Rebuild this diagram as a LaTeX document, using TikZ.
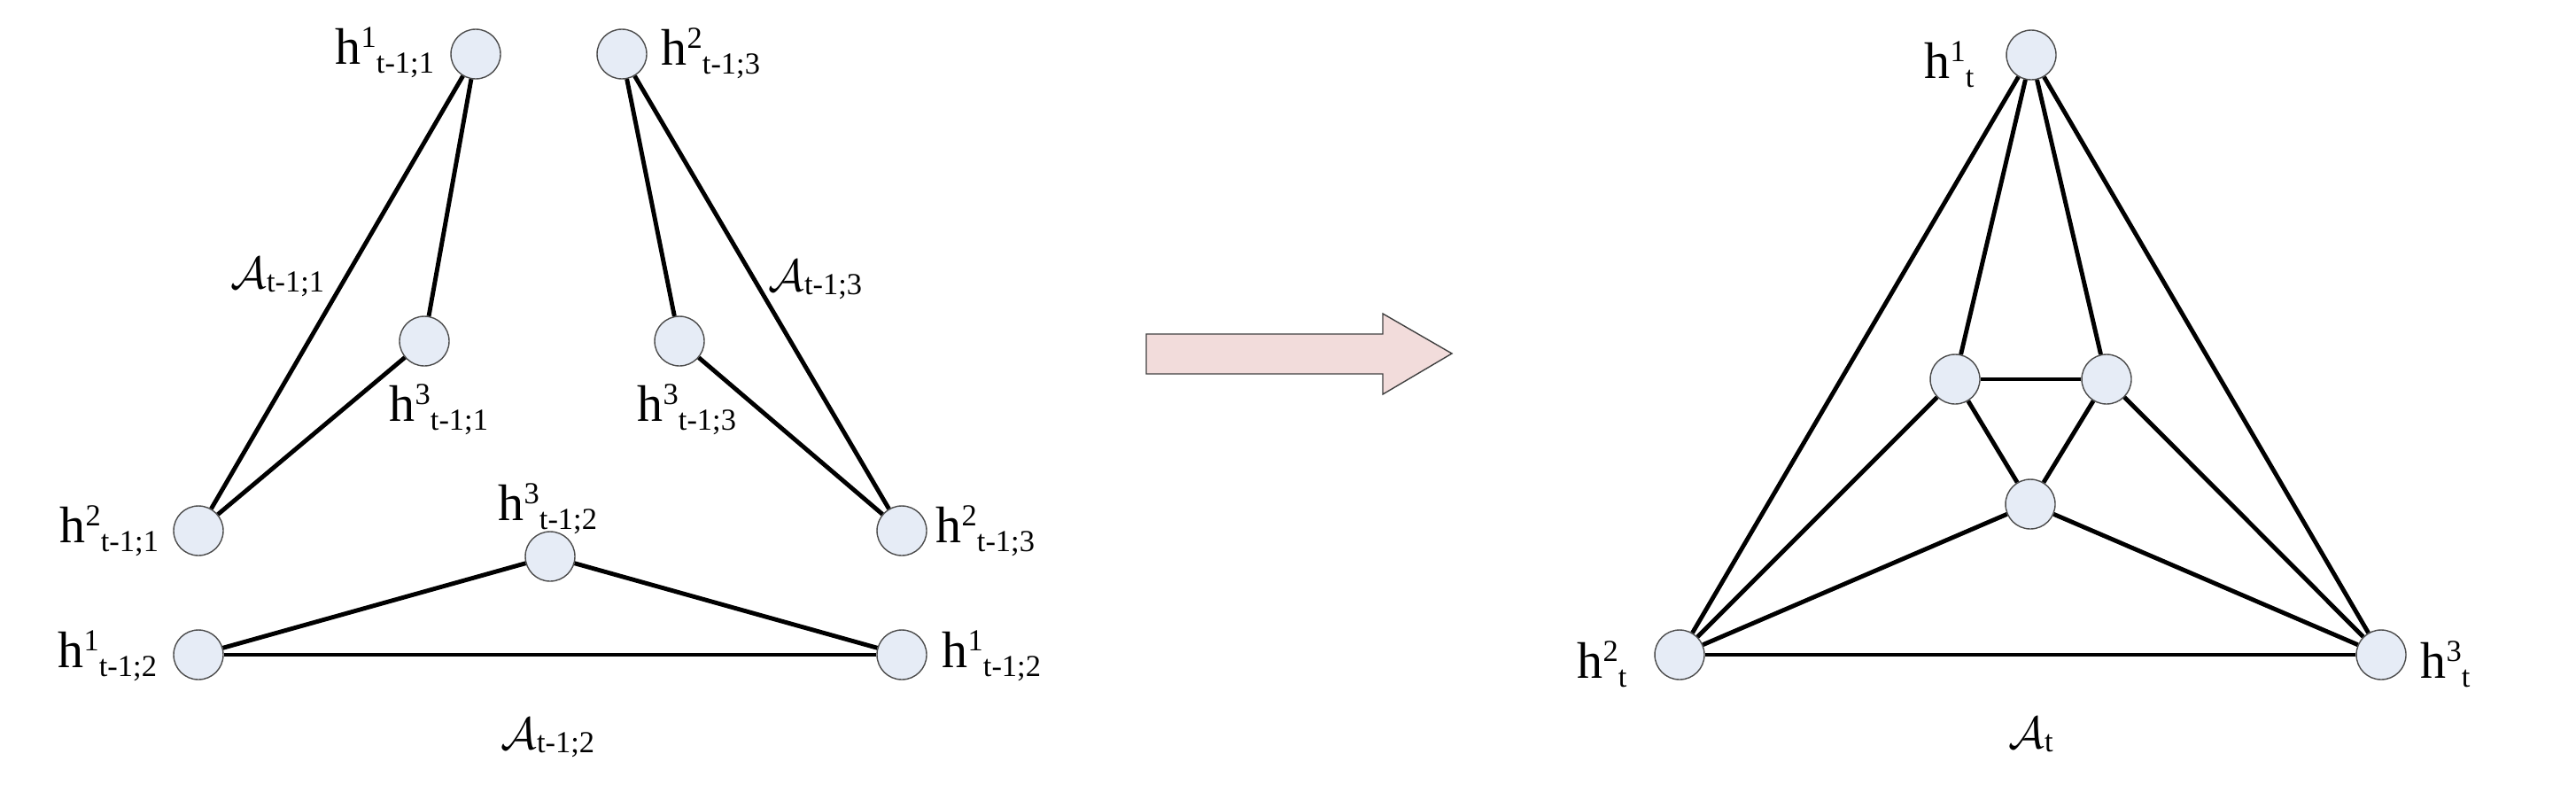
\documentclass[tikz,border=0pt]{standalone}
\usepackage{fontspec}
\setmainfont{Liberation Serif}
\usepackage{tikz}
\usetikzlibrary{calc}

\definecolor{vertexfill}{RGB}{230,236,246}
\definecolor{arrowfill}{RGB}{242,220,219}

\newcommand{\idxfont}{\fontsize{9.8}{10}\selectfont}
\newcommand{\hlab}[2]{h\raisebox{0.19cm}{\idxfont #1}\raisebox{-0.10cm}{\idxfont #2}}
\newcommand{\Alab}[1]{$\mathcal{A}$\raisebox{-0.04cm}{\idxfont #1}}

\tikzset{
  vertex/.style={circle, draw=black!70, line width=0.4pt, fill=vertexfill,
    minimum size=0.56cm, inner sep=0pt},
  edge/.style={line width=1.4pt},
  hname/.style={inner sep=0pt, anchor=base west, font=\fontsize{16.5}{18}\selectfont},
  aname/.style={inner sep=0pt, anchor=base west, font=\fontsize{15}{17}\selectfont}
}

\begin{document}
\begin{tikzpicture}
  \useasboundingbox (0,0) rectangle (29.08,8.85);

  % first triangle
  \node[vertex] (g1top) at (5.37,8.24) {};
  \node[vertex] (g1mid) at (4.79,5.00) {};
  \node[vertex] (g1bot) at (2.24,2.86) {};

  % third triangle
  \node[vertex] (g3top) at (7.02,8.24) {};
  \node[vertex] (g3mid) at (7.67,5.00) {};
  \node[vertex] (g3bot) at (10.18,2.86) {};

  % second triangle
  \node[vertex] (g2top) at (6.21,2.57) {};
  \node[vertex] (g2left) at (2.24,1.46) {};
  \node[vertex] (g2right) at (10.18,1.46) {};

  \draw[edge] (g1top) -- (g1bot);
  \draw[edge] (g1top) -- (g1mid);
  \draw[edge] (g1mid) -- (g1bot);

  \draw[edge] (g3top) -- (g3bot);
  \draw[edge] (g3top) -- (g3mid);
  \draw[edge] (g3mid) -- (g3bot);

  \draw[edge] (g2left) -- (g2top);
  \draw[edge] (g2top) -- (g2right);
  \draw[edge] (g2left) -- (g2right);

  \node[hname] (lab1top) at (3.78,8.13) {\hlab{1}{t-1;1}};
  \node[hname] (lab1mid) at (4.39,4.10) {\hlab{3}{t-1;1}};
  \node[hname] (lab1bot) at (0.67,2.73) {\hlab{2}{t-1;1}};
  \node[aname] (graph1) at (2.60,5.60) {\Alab{t-1;1}};

  \node[hname] (lab3top) at (7.46,8.12) {\hlab{2}{t-1;3}};
  \node[hname] (lab3mid) at (7.19,4.10) {\hlab{3}{t-1;3}};
  \node[hname] (lab3bot) at (10.56,2.73) {\hlab{2}{t-1;3}};
  \node[aname] (graph3) at (8.67,5.57) {\Alab{t-1;3}};

  \node[hname] (lab2top) at (5.62,2.98) {\hlab{3}{t-1;2}};
  \node[hname] (lab2left) at (0.65,1.32) {\hlab{1}{t-1;2}};
  \node[hname] (lab2right) at (10.63,1.32) {\hlab{1}{t-1;2}};
  \node[aname] (graph2) at (5.65,0.40) {\Alab{t-1;2}};

  % block arrow
  \draw[draw=black!75, line width=0.4pt, fill=arrowfill]
    (12.94,5.08) -- (15.61,5.08) -- (15.61,5.31) -- (16.39,4.86)
    -- (15.61,4.40) -- (15.61,4.63) -- (12.94,4.63) -- cycle;

  % merged graph
  \node[vertex] (top) at (22.93,8.23) {};
  \node[vertex] (midl) at (22.07,4.57) {};
  \node[vertex] (midr) at (23.78,4.57) {};
  \node[vertex] (midb) at (22.92,3.16) {};
  \node[vertex] (left) at (18.96,1.46) {};
  \node[vertex] (right) at (26.88,1.46) {};

  \draw[edge] (top) -- (left);
  \draw[edge] (top) -- (right);
  \draw[edge] (top) -- (midl);
  \draw[edge] (top) -- (midr);
  \draw[edge] (midl) -- (midr);
  \draw[edge] (midl) -- (midb);
  \draw[edge] (midr) -- (midb);
  \draw[edge] (midl) -- (left);
  \draw[edge] (midr) -- (right);
  \draw[edge] (midb) -- (left);
  \draw[edge] (midb) -- (right);
  \draw[edge] (left) -- (right);

  \node[hname] (labtop) at (21.72,7.97) {\hlab{1}{t}};
  \node[hname] (lableft) at (17.80,1.20) {\hlab{2}{t}};
  \node[hname] (labright) at (27.32,1.20) {\hlab{3}{t}};
  \node[aname] (grapht) at (22.67,0.41) {\Alab{t}};

\end{tikzpicture}
\end{document}
